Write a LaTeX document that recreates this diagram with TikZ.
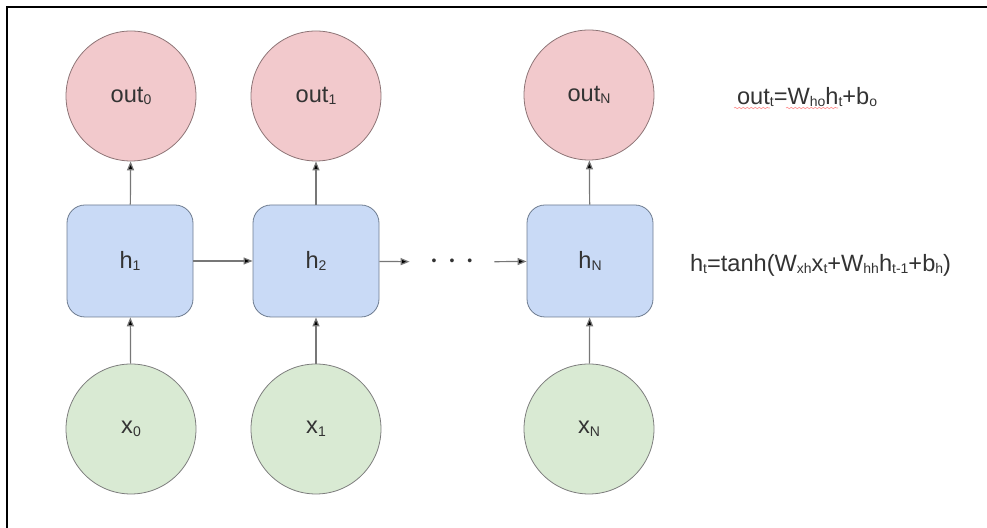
\documentclass[tikz,border=0pt]{standalone}
\usepackage{fontspec}
\setmainfont{Liberation Sans}
\usetikzlibrary{arrows.meta,decorations.pathmorphing}

\definecolor{outfill}{HTML}{F2C9CC}
\definecolor{outline}{HTML}{8C7375}
\definecolor{hfill}{HTML}{C9DAF6}
\definecolor{hline}{HTML}{6E7C90}
\definecolor{xfill}{HTML}{D9EAD3}
\definecolor{xline}{HTML}{7C7C7C}
\definecolor{arrgray}{HTML}{777777}
\definecolor{txt}{HTML}{333333}

\newcommand{\sub}[1]{\raisebox{-0.2ex}{\fontsize{7}{8}\selectfont #1}}
\newcommand{\dotsep}{\hspace{6.5pt}}

\begin{document}
\begin{tikzpicture}[x=0.5pt,y=-0.5pt,
    font=\fontsize{11.8}{14}\selectfont, text=txt,
    outnode/.style={shape=circle,draw=outline,fill=outfill,minimum size=65pt,inner sep=0pt},
    hnode/.style={shape=rectangle,rounded corners=9pt,draw=hline,fill=hfill,minimum width=63pt,minimum height=56pt},
    xnode/.style={shape=circle,draw=xline,fill=xfill,minimum size=65pt,inner sep=0pt},
    arr/.style={draw=arrgray,line width=0.6pt,-{Triangle[length=4.5pt,width=3.5pt]}},
    squiggle/.style={draw=red!45,line width=0.3pt,decorate,decoration={snake,amplitude=0.35pt,segment length=2pt}}]
    \useasboundingbox (0,0) rectangle (987,528);
    \draw[line width=1.2pt] (987,7) -- (7,7) -- (7,528);

    \node[outnode] (O0) at (131,96) {out\sub{0}};
    \node[outnode] (O1) at (316,96) {out\sub{1}};
    \node[outnode] (ON) at (589,95) {out\sub{N}};

    \node[hnode] (H1) at (130,261) {h\sub{1}};
    \node[hnode] (H2) at (316,261) {h\sub{2}};
    \node[inner sep=0pt,minimum width=42pt,font=\fontsize{7}{8}\selectfont] (D) at (452,262) {\textbullet\dotsep\textbullet\dotsep\textbullet};
    \node[hnode] (HN) at (590,261) {h\sub{N}};

    \node[xnode] (X0) at (131,429) {x\sub{0}};
    \node[xnode] (X1) at (316,429) {x\sub{1}};
    \node[xnode] (XN) at (589,429) {x\sub{N}};

    \node[anchor=west] (F1) at (730,97) {out\sub{t}=W\sub{ho}h\sub{t}+b\sub{o}};
    \node[anchor=west] (F2) at (683,265) {h\sub{t}=tanh(W\sub{xh}x\sub{t}+W\sub{hh}h\sub{t-1}+b\sub{h})};

    \path [arr] (H1) edge (O0);
    \path [arr] (H2) edge (O1);
    \path [arr] (HN) edge (ON);
    \path [arr] (X0) edge (H1);
    \path [arr] (X1) edge (H2);
    \path [arr] (XN) edge (HN);
    \path [arr] (H1) edge (H2);
    \path [arr] (H2) edge (D);
    \path [arr] (D) edge (HN);

    % spell-check marks
    \draw[squiggle] (734,108) -- (770,108);
    \draw[squiggle] (786,108) -- (838,108);
\end{tikzpicture}
\end{document}
